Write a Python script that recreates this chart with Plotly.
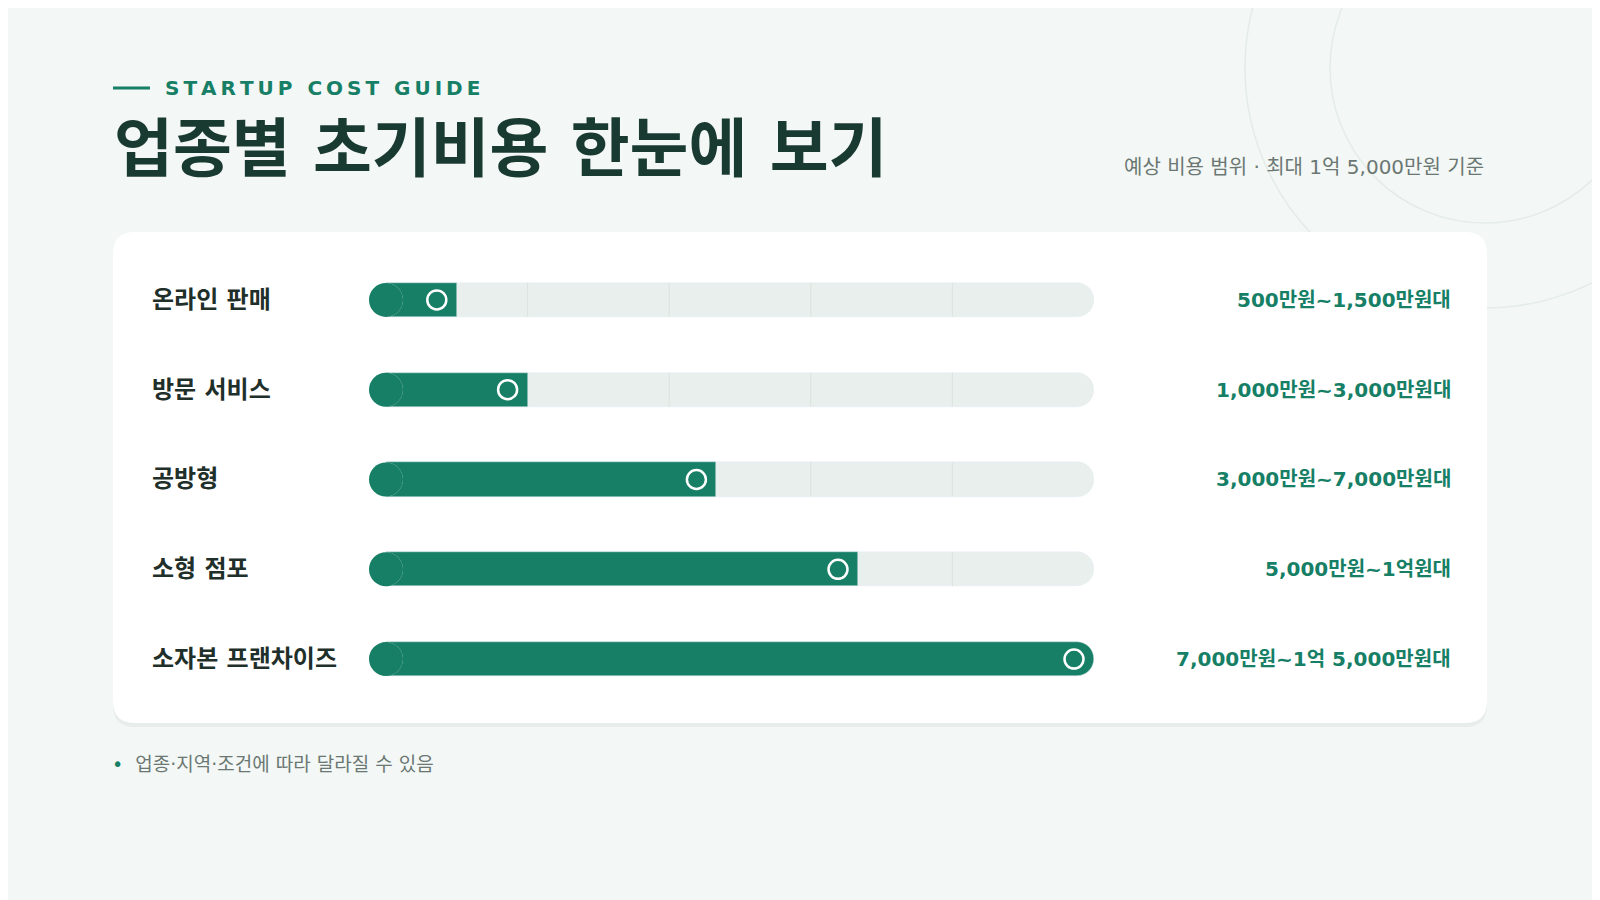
import plotly.graph_objects as go

# 데이터 (단위: 만원)
categories = ["온라인 판매", "방문 서비스", "공방형", "소형 점포", "소자본 프랜차이즈"]
upper_cost = [1500, 3000, 7000, 10000, 15000]
range_labels = ["500만원~1,500만원대", "1,000만원~3,000만원대", "3,000만원~7,000만원대",
                "5,000만원~1억원대", "7,000만원~1억 5,000만원대"]
max_cost = 15000
grid_ticks = [3000, 6000, 9000, 12000]

W, H = 1600, 900
GREEN = "#167f66"
TRACK = "#e9efec"
FONT = "DejaVu Sans, Noto Sans CJK KR"

def px(x):
    return (x - 8) / W

def py(y):
    return 1 - y / H

rows = list(range(len(categories)))
BAR_PX = 34
X0_PX, X1_PX = 386, 1094
units_per_px = max_cost / (X1_PX - X0_PX)

fig = go.Figure()

# 트랙
fig.add_trace(go.Bar(x=[max_cost] * len(rows), y=rows, orientation="h", width=0.38,
                     marker=dict(color=TRACK, cornerradius=17), hoverinfo="skip"))
fig.add_trace(go.Scatter(x=[0] * len(rows), y=rows, mode="markers", cliponaxis=False,
                         marker=dict(size=BAR_PX, color=TRACK), hoverinfo="skip"))
# 그리드 선 (채워지지 않은 트랙 부분에만)
xs, ys = [], []
for r, v in zip(rows, upper_cost):
    for t in grid_ticks:
        if t > v:
            xs += [t, t, None]
            ys += [r - 0.19, r + 0.19, None]
fig.add_trace(go.Scatter(x=xs, y=ys, mode="lines", line=dict(color="#dbe3df", width=1),
                         hoverinfo="skip"))
# 값 막대
fig.add_trace(go.Bar(x=upper_cost, y=rows, orientation="h", width=0.38,
                     marker=dict(color=GREEN, cornerradius=17)))
fig.add_trace(go.Scatter(x=[0] * len(rows), y=rows, mode="markers", cliponaxis=False,
                         marker=dict(size=BAR_PX, color=GREEN), hoverinfo="skip"))
# 끝 원형 마커
offset = 20 * units_per_px
fig.add_trace(go.Scatter(x=[v - offset for v in upper_cost], y=rows, mode="markers",
                         cliponaxis=False,
                         marker=dict(size=19, color="rgba(0,0,0,0)",
                                     line=dict(color="white", width=2.5)), hoverinfo="skip"))

row_px = [292, 382, 471, 561, 651]
ann = []
for r, (c, lab) in enumerate(zip(categories, range_labels)):
    ann.append(dict(x=px(150), y=py(row_px[r]), xref="paper", yref="paper", text=f"<b>{c}</b>",
                    showarrow=False, xanchor="left", yanchor="middle",
                    font=dict(size=24, color="#1f2f2a", family=FONT)))
    ann.append(dict(x=px(1453), y=py(row_px[r]), xref="paper", yref="paper", text=f"<b>{lab}</b>",
                    showarrow=False, xanchor="right", yanchor="middle",
                    font=dict(size=20, color=GREEN, family=FONT)))

kicker = "\u2009".join("STARTUP COST GUIDE")
ann += [
    dict(x=px(163), y=py(80), xref="paper", yref="paper", text=f"<b>{kicker}</b>",
         showarrow=False, xanchor="left", yanchor="middle", font=dict(size=20, color=GREEN, family=FONT)),
    dict(x=px(112), y=py(141), xref="paper", yref="paper", text="<b>업종별 초기비용 한눈에 보기</b>",
         showarrow=False, xanchor="left", yanchor="middle", font=dict(size=64, color="#183a30", family=FONT)),
    dict(x=px(1486), y=py(159), xref="paper", yref="paper", text="예상 비용 범위 · 최대 1억 5,000만원 기준",
         showarrow=False, xanchor="right", yanchor="middle", font=dict(size=20, color="#6b7773", family=FONT)),
    dict(x=px(110), y=py(756), xref="paper", yref="paper",
         text=f"<span style='color:{GREEN}'>•</span>  업종·지역·조건에 따라 달라질 수 있음",
         showarrow=False, xanchor="left", yanchor="middle", font=dict(size=19, color="#6b7773", family=FONT)),
]

# 카드 (둥근 모서리, 픽셀 좌표)
x0, x1, y0, y1, rr = 113 - 8, 1487 - 8, 224, 715, 22
pts = (f"M {x0+rr},{y0} L {x1-rr},{y0} Q {x1},{y0} {x1},{y0+rr} L {x1},{y1-rr} "
       f"Q {x1},{y1} {x1-rr},{y1} L {x0+rr},{y1} Q {x0},{y1} {x0},{y1-rr} "
       f"L {x0},{y0+rr} Q {x0},{y0} {x0+rr},{y0} Z")

def flip(path):
    out = []
    for tok in path.split():
        if "," in tok:
            a, b = tok.split(",")
            out.append(f"{a},{-float(b)}")
        else:
            out.append(tok)
    return " ".join(out)

card = dict(type="path", xsizemode="pixel", ysizemode="pixel", xref="paper", yref="paper",
            xanchor=0, yanchor=1, path=flip(pts), line=dict(width=0), fillcolor="white", layer="below")
shadow = dict(card, fillcolor="rgba(20,60,45,0.05)", yanchor=1 - 4 / H)

shapes = [
    dict(type="circle", xsizemode="pixel", ysizemode="pixel", xref="paper", yref="paper",
         xanchor=px(1485), yanchor=py(60), x0=-240, x1=240, y0=-240, y1=240,
         line=dict(color="#e3ece8", width=1.5), layer="below"),
    dict(type="circle", xsizemode="pixel", ysizemode="pixel", xref="paper", yref="paper",
         xanchor=px(1485), yanchor=py(60), x0=-155, x1=155, y0=-155, y1=155,
         line=dict(color="#e3ece8", width=1.5), layer="below"),
    shadow, card,
    dict(type="line", xref="paper", yref="paper", x0=px(113), x1=px(150), y0=py(80), y1=py(80),
         line=dict(color=GREEN, width=3)),
]

fig.update_layout(
    width=W, height=H, margin=dict(l=0, r=0, t=0, b=0),
    paper_bgcolor="#f3f7f5", plot_bgcolor="rgba(0,0,0,0)",
    barmode="overlay", showlegend=False, bargap=0,
    xaxis=dict(domain=[px(X0_PX), px(X1_PX)], range=[0, max_cost], visible=False, fixedrange=True),
    yaxis=dict(domain=[py(696), py(247)], range=[4.5, -0.5], visible=False, fixedrange=True),
    annotations=ann, shapes=shapes, font=dict(family=FONT),
)

fig.write_html("out.html")
